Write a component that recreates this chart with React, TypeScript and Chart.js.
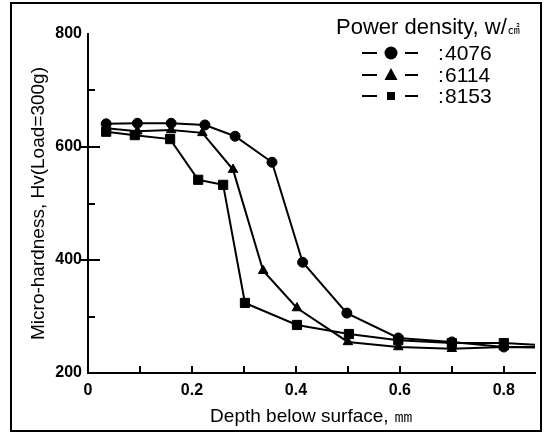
import React, { useEffect, useRef } from 'react';
import { Chart, registerables } from 'chart.js';

Chart.register(...registerables);

// ---- data ----
const seriesLabels = ['4076', '6114', '8153'];
const seriesMarkers = ['circle', 'triangle', 'rect'];

const x4076 = [0.035, 0.095, 0.16, 0.225, 0.283, 0.354, 0.413, 0.498, 0.597, 0.7, 0.8, 0.86];
const y4076 = [641, 642, 642, 639, 619, 573, 396, 306, 262, 255, 246, 246];

const x6114 = [0.035, 0.095, 0.16, 0.22, 0.279, 0.337, 0.402, 0.5, 0.597, 0.7, 0.8, 0.86];
const y6114 = [633, 628, 630, 625, 560, 381, 315, 255, 246, 243, 246, 245];

const x8153 = [0.035, 0.09, 0.158, 0.212, 0.26, 0.302, 0.402, 0.502, 0.597, 0.7, 0.8, 0.86];
const y8153 = [627, 621, 614, 542, 533, 324, 285, 269, 258, 253, 253, 250];

const xTickValues = [0, 0.2, 0.4, 0.6, 0.8];
const xSmallTicks = [0.1, 0.2, 0.3, 0.4, 0.5, 0.6, 0.7, 0.8];
const yTickValues = [200, 400, 600, 800];
const yMinorTicks = [300, 500, 700];
const yMajorTicks = [400, 600];

const xTitle = 'Depth below surface, ㎜';
const yTitle = 'Micro-hardness, Hv(Load=300g)';
const legendTitle = 'Power density, w/';
const legendUnit = '㎠';

const FONT = "'Liberation Sans', Arial, sans-serif";

function toPoints(xs: number[], ys: number[]) {
  return xs.map((x, i) => ({ x, y: ys[i] }));
}

const decorPlugin = {
  id: 'decor',
  afterDatasetsDraw(chart: any) {
    const { ctx, chartArea, scales } = chart;
    const xs = scales.x;
    const ys = scales.y;
    ctx.save();
    ctx.strokeStyle = '#000';
    ctx.lineWidth = 2;
    ctx.beginPath();
    yMinorTicks.forEach((v) => {
      const py = Math.round(ys.getPixelForValue(v));
      ctx.moveTo(chartArea.left, py);
      ctx.lineTo(chartArea.left + 7, py);
    });
    yMajorTicks.forEach((v) => {
      const py = Math.round(ys.getPixelForValue(v));
      ctx.moveTo(chartArea.left - 8, py);
      ctx.lineTo(chartArea.left + 12, py);
    });
    xSmallTicks.forEach((v) => {
      const px = Math.round(xs.getPixelForValue(v));
      ctx.moveTo(px, chartArea.bottom);
      ctx.lineTo(px, chartArea.bottom - 7);
    });
    ctx.stroke();
    ctx.restore();
  },
  afterDraw(chart: any) {
    const { ctx } = chart;
    ctx.save();
    ctx.fillStyle = '#000';
    ctx.strokeStyle = '#000';
    ctx.textBaseline = 'alphabetic';
    ctx.textAlign = 'left';
    ctx.font = `22px ${FONT}`;
    ctx.fillText(legendTitle, 336, 34);
    const w = ctx.measureText(legendTitle).width;
    ctx.font = `12px 'Noto Sans CJK JP', sans-serif`;
    ctx.fillText(legendUnit, 337 + w, 34);

    const rowY = [53, 75, 96];
    chart.data.datasets.forEach((ds: any, i: number) => {
      const cy = rowY[i];
      ctx.lineWidth = 2;
      ctx.beginPath();
      ctx.moveTo(362, cy);
      ctx.lineTo(377, cy);
      ctx.moveTo(405, cy);
      ctx.lineTo(418, cy);
      ctx.stroke();
      const mx = 391;
      ctx.beginPath();
      if (ds.pointStyle === 'circle') {
        ctx.arc(mx, cy, 6.5, 0, Math.PI * 2);
      } else if (ds.pointStyle === 'triangle') {
        ctx.moveTo(mx, cy - 7);
        ctx.lineTo(mx + 6.5, cy + 5);
        ctx.lineTo(mx - 6.5, cy + 5);
        ctx.closePath();
      } else {
        ctx.rect(mx - 4, cy - 4, 8, 8);
      }
      ctx.fill();
      ctx.font = `21px ${FONT}`;
      ctx.textBaseline = 'middle';
      ctx.fillText(':', 438, cy + 1);
      ctx.fillText(ds.label, 445, cy + 1);
      ctx.textBaseline = 'alphabetic';
    });
    ctx.restore();
  },
};

export default function App() {
  const canvasRef = useRef<HTMLCanvasElement | null>(null);

  useEffect(() => {
    const canvas = canvasRef.current;
    if (!canvas) return;
    const series = [
      { xs: x4076, ys: y4076, r: 5 },
      { xs: x6114, ys: y6114, r: 5.5 },
      { xs: x8153, ys: y8153, r: 6.5 },
    ];
    const chart = new Chart(canvas, {
      type: 'line',
      data: {
        datasets: series.map((s, i) => ({
          label: seriesLabels[i],
          data: toPoints(s.xs, s.ys),
          borderColor: '#000',
          backgroundColor: '#000',
          borderWidth: 2,
          pointStyle: seriesMarkers[i] as any,
          pointRadius: (c: any) => (c.dataIndex === s.xs.length - 1 ? 0 : s.r),
          pointBackgroundColor: '#000',
          pointBorderColor: '#000',
          pointBorderWidth: 1,
          tension: 0,
          fill: false,
        })),
      },
      options: {
        animation: false,
        responsive: false,
        devicePixelRatio: 1,
        events: [],
        layout: { padding: { left: 0, top: 34, right: 9, bottom: 0 } },
        plugins: {
          legend: { display: false },
          tooltip: { enabled: false },
        },
        scales: {
          x: {
            type: 'linear',
            min: 0,
            max: 0.86,
            grid: { display: false, drawTicks: false },
            border: { display: true, color: '#000', width: 2 },
            afterBuildTicks: (scale: any) => {
              scale.ticks = xTickValues.map((v) => ({ value: v }));
            },
            afterFit: (scale: any) => {
              scale.height = 63;
            },
            ticks: {
              color: '#000',
              font: { family: FONT, size: 16, weight: 'bold' },
              padding: 8,
              maxRotation: 0,
              autoSkip: false,
              callback: (v: any) => String(v),
            },
            title: {
              display: true,
              text: xTitle,
              color: '#000',
              font: { family: FONT, size: 19 },
              padding: { top: 0, bottom: 8 },
            },
          },
          y: {
            type: 'linear',
            min: 200,
            max: 800,
            grid: { display: false, drawTicks: false },
            border: { display: true, color: '#000', width: 2 },
            afterBuildTicks: (scale: any) => {
              scale.ticks = yTickValues.map((v) => ({ value: v }));
            },
            afterFit: (scale: any) => {
              scale.width = 88;
            },
            ticks: {
              color: '#000',
              font: { family: FONT, size: 16, weight: 'bold' },
              padding: 6,
              autoSkip: false,
              callback: (v: any) => String(v),
            },
            title: {
              display: true,
              text: yTitle,
              color: '#000',
              font: { family: FONT, size: 19 },
              padding: { top: 27, bottom: 0 },
            },
          },
        },
      },
      plugins: [decorPlugin],
    } as any);
    return () => chart.destroy();
  }, []);

  return (
    <div style={{ position: 'absolute', left: 0, top: 0, width: 544, height: 436, background: '#fff' }}>
      <canvas ref={canvasRef} width={544} height={436} style={{ display: 'block', width: 544, height: 436 }} />
      <div
        style={{
          position: 'absolute',
          left: 10,
          top: 2,
          width: 528,
          height: 426,
          border: '2px solid #000',
          pointerEvents: 'none',
        }}
      />
    </div>
  );
}
